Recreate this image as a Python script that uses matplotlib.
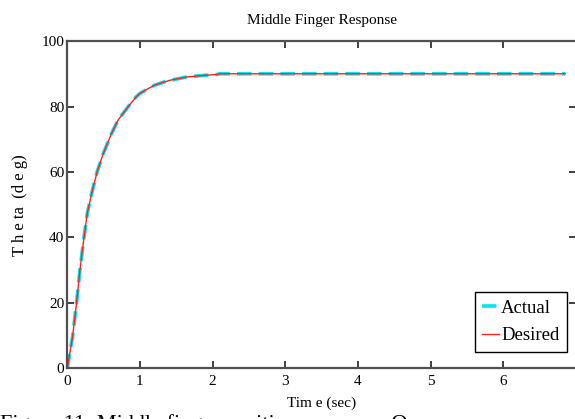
import matplotlib
matplotlib.use("Agg")
import matplotlib.pyplot as plt

# Middle finger joint angle: desired trajectory and measured response
time_s = [0.0, 0.073, 0.128, 0.174, 0.23, 0.275, 0.335, 0.41, 0.495, 0.61,
          0.70, 0.84, 0.95, 1.0, 1.1, 1.2, 1.32, 1.41, 1.64, 1.87, 2.07,
          2.09, 3.0, 4.0, 5.0, 6.0, 6.85]
theta_desired = [0.0, 9.7, 20.0, 30.0, 40.0, 47.3, 53.4, 60.0, 65.6, 71.8,
                 75.9, 80.0, 83.0, 84.0, 85.3, 86.5, 87.4, 88.0, 89.0, 89.5,
                 89.8, 90.0, 90.0, 90.0, 90.0, 90.0, 90.0]
theta_actual = theta_desired

TITLE = "Middle Finger Response"
X_LABEL = "Tim e (sec)"
Y_LABEL = "T h e ta  (d e g)"
CAPTION = "Figure 11: Middle finger position response. Our"

plt.rcParams["font.family"] = ["Liberation Serif", "DejaVu Serif"]

fig = plt.figure(figsize=(5.75, 4.19), dpi=100)
ax = fig.add_axes([0.117, 0.121, 0.885, 0.781])

ax.plot(time_s, theta_actual, color="#00e5ee", linestyle="--",
        linewidth=2.6, dashes=(4, 2), label="Actual")
ax.plot(time_s, theta_desired, color="#ff2020", linewidth=1.0,
        label="Desired")

ax.set_xlim(0, 7)
ax.set_ylim(0, 100)
ax.set_xticks(range(0, 7))
ax.set_yticks(range(0, 101, 20))

for side in ax.spines.values():
    side.set_color("#505050")
    side.set_linewidth(1.6)
ax.tick_params(direction="in", length=5, width=1.2, top=True, right=True,
               labelsize=11, color="#202020")
ax.tick_params(axis="x", pad=5)
ax.tick_params(axis="y", pad=2)

ax.set_title(TITLE, fontsize=11, pad=12)
ax.set_xlabel(X_LABEL, fontsize=11, labelpad=6)
ax.set_ylabel(Y_LABEL, fontsize=12, labelpad=10)

leg = ax.legend(loc="lower right", bbox_to_anchor=(0.982, 0.05),
                fontsize=13.5, handlelength=0.9, handletextpad=0.1,
                borderpad=0.4, labelspacing=0.55, fancybox=False,
                framealpha=1, borderaxespad=0)
leg.get_frame().set_edgecolor("black")
leg.get_frame().set_linewidth(1.0)

fig.text(0.0, 1 - 414 / 419, CAPTION, fontsize=16, va="top", ha="left")

fig.savefig("out.png", dpi=100)
